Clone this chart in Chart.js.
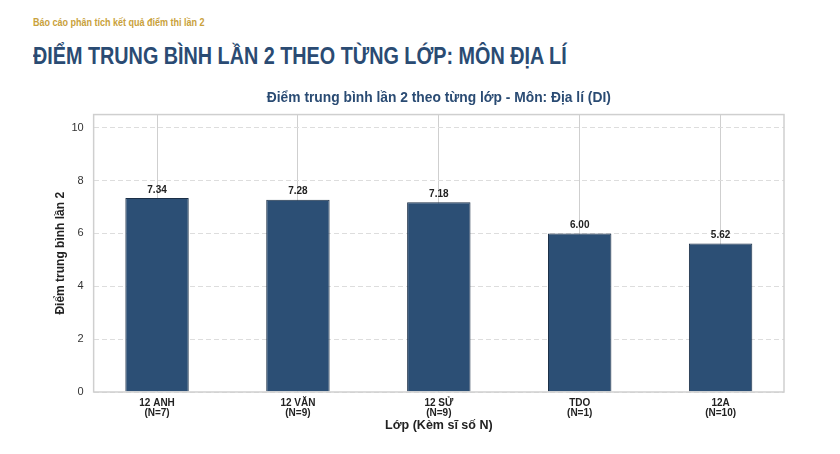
<!DOCTYPE html>
<html>
<head>
<meta charset="utf-8">
<script src="https://cdn.jsdelivr.net/npm/chart.js@4.4.0/dist/chart.umd.min.js"></script>
<style>
  html, body { margin: 0; padding: 0; background: #fff; }
  body { width: 840px; height: 454px; position: relative; overflow: hidden; font-family: "Liberation Sans", Arial, sans-serif; }
  #sub { position: absolute; left: 33px; top: 17px; font-size: 10px; font-weight: bold; color: #c9a13b; transform: scaleX(0.9); transform-origin: left top; white-space: nowrap; }
  #title { position: absolute; left: 33px; top: 43px; font-size: 23px; font-weight: bold; color: #2a4b73; white-space: nowrap; transform: scaleX(0.86); transform-origin: left top; }
  #wrap { position: absolute; left: 0; top: 80px; width: 840px; height: 374px; }
</style>
</head>
<body>
<div id="sub">Báo cáo phân tích kết quả điểm thi lần 2</div>
<div id="title">ĐIỂM TRUNG BÌNH LẦN 2 THEO TỪNG LỚP: MÔN ĐỊA LÍ</div>
<div id="wrap"><canvas id="myChart"></canvas></div>
<script>
var classes = ["12 ANH", "12 VĂN", "12 SỬ", "TDO", "12A"];
var counts = ["(N=7)", "(N=9)", "(N=9)", "(N=1)", "(N=10)"];
var scores = [7.34, 7.28, 7.18, 6.00, 5.62];
var yTicks = [0, 2, 4, 6, 8, 10];

// bar points on a linear x scale so the side margins match the picture
var points = scores.map(function (v, i) { return { x: i, y: v }; });

var valueLabels = {
  id: 'valueLabels',
  afterDatasetsDraw: function (chart) {
    var ctx = chart.ctx;
    var meta = chart.getDatasetMeta(0);
    ctx.save();
    ctx.font = 'bold 10px "Liberation Sans", Arial, sans-serif';
    ctx.fillStyle = '#222';
    ctx.textAlign = 'center';
    ctx.textBaseline = 'bottom';
    meta.data.forEach(function (bar, i) {
      ctx.fillText(scores[i].toFixed(2), bar.x, bar.y - 3);
    });
    ctx.restore();
  }
};

var frame = {
  id: 'frame',
  afterDraw: function (chart) {
    var a = chart.chartArea;
    var ctx = chart.ctx;
    ctx.save();
    ctx.strokeStyle = '#cfcfcf';
    ctx.lineWidth = 1.5;
    ctx.strokeRect(a.left, a.top, a.right - a.left, a.bottom - a.top);
    ctx.restore();
  }
};

function init() {
  var ctx = document.getElementById('myChart').getContext('2d');
  new Chart(ctx, {
    type: 'bar',
    data: {
      datasets: [{
        data: points,
        backgroundColor: '#2c4f75',
        borderColor: '#1b2f47',
        borderWidth: 1,
        barPercentage: 0.45,
        categoryPercentage: 1
      }]
    },
    plugins: [valueLabels, frame],
    options: {
      responsive: true,
      maintainAspectRatio: false,
      animation: false,
      layout: { padding: { left: 53, right: 56, top: 0, bottom: 21 } },
      plugins: {
        legend: { display: false },
        tooltip: { enabled: false },
        title: {
          display: true,
          fullSize: false,
          text: 'Điểm trung bình lần 2 theo từng lớp - Môn: Địa lí (DI)',
          color: '#2a4b73',
          font: { family: '"Liberation Sans", Arial, sans-serif', size: 13.8, weight: 'bold' },
          padding: { top: 10, bottom: 8 }
        }
      },
      scales: {
        x: {
          type: 'linear',
          offset: false,
          min: -0.45,
          max: 4.45,
          grid: { color: '#cfcfcf', lineWidth: 1, drawTicks: false, offset: false },
          border: { display: false },
          afterBuildTicks: function (axis) {
            axis.ticks = classes.map(function (c, i) { return { value: i }; });
          },
          ticks: {
            padding: 6,
            color: '#222',
            autoSkip: false,
            maxRotation: 0,
            font: { family: '"Liberation Sans", Arial, sans-serif', size: 10, weight: 'bold', lineHeight: 1.0 },
            callback: function (v) {
              return classes[v] ? [classes[v], counts[v]] : '';
            }
          },
          title: {
            display: true,
            text: 'Lớp (Kèm sĩ số N)',
            color: '#222',
            font: { family: '"Liberation Sans", Arial, sans-serif', size: 12.5, weight: 'bold' },
            padding: { top: -6, bottom: 0 }
          }
        },
        y: {
          min: 0,
          max: 10.5,
          grid: { color: '#dddddd', lineWidth: 1, drawTicks: false },
          border: { display: false, dash: [5, 3] },
          afterBuildTicks: function (axis) {
            axis.ticks = yTicks.map(function (v) { return { value: v }; });
          },
          ticks: {
            padding: 10,
            color: '#333',
            font: { family: '"Liberation Sans", Arial, sans-serif', size: 11 }
          },
          title: {
            display: true,
            text: 'Điểm trung bình lần 2',
            color: '#222',
            font: { family: '"Liberation Sans Narrow", "Liberation Sans", Arial, sans-serif', size: 12, weight: 'bold' },
            padding: { top: 0, bottom: -6 }
          }
        }
      }
    }
  });
}

init();
</script>
</body>
</html>
